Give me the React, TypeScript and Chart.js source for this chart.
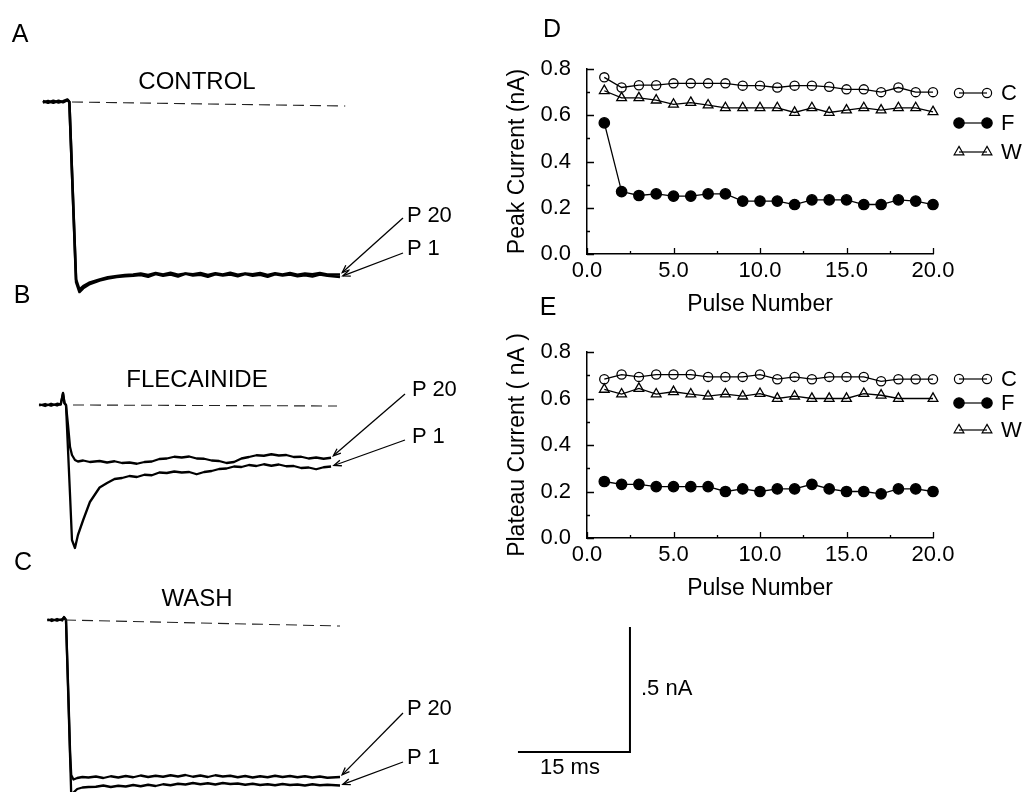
import React, { useEffect, useRef } from "react";
import { Chart, registerables } from "chart.js";

Chart.register(...registerables);

const FONT = '"Liberation Sans", Arial, Helvetica, sans-serif';

// ---------------- Panels D & E (pulse-number plots) ----------------
const pulseNumbers = [1, 2, 3, 4, 5, 6, 7, 8, 9, 10, 11, 12, 13, 14, 15, 16, 17, 18, 19, 20];

const peakControl = [0.764, 0.72, 0.73, 0.73, 0.738, 0.738, 0.738, 0.738, 0.728, 0.728, 0.72, 0.728, 0.728, 0.723, 0.712, 0.712, 0.7, 0.72, 0.7, 0.7];
const peakFlecainide = [0.567, 0.27, 0.253, 0.26, 0.25, 0.25, 0.26, 0.26, 0.229, 0.229, 0.229, 0.214, 0.234, 0.234, 0.234, 0.214, 0.214, 0.234, 0.229, 0.214];
const peakWash = [0.706, 0.675, 0.675, 0.665, 0.647, 0.655, 0.644, 0.632, 0.632, 0.632, 0.632, 0.612, 0.632, 0.612, 0.622, 0.632, 0.622, 0.632, 0.632, 0.615];

const plateauControl = [0.683, 0.703, 0.693, 0.703, 0.703, 0.703, 0.693, 0.693, 0.693, 0.703, 0.683, 0.693, 0.683, 0.693, 0.693, 0.693, 0.674, 0.683, 0.683, 0.683];
const plateauFlecainide = [0.243, 0.231, 0.231, 0.221, 0.221, 0.221, 0.221, 0.2, 0.211, 0.2, 0.211, 0.211, 0.231, 0.211, 0.2, 0.2, 0.19, 0.211, 0.211, 0.2];
const plateauWash = [0.639, 0.619, 0.643, 0.619, 0.629, 0.619, 0.61, 0.619, 0.61, 0.621, 0.6, 0.61, 0.6, 0.6, 0.6, 0.621, 0.614, 0.6, null, 0.6];

const currentTicks = [0, 0.2, 0.4, 0.6, 0.8];
const currentMinorTicks = [0.1, 0.3, 0.5, 0.7];
const pulseTicks = [0, 5, 10, 15, 20];
const pulseMinorTicks = [2.5, 7.5, 12.5, 17.5];
const seriesLabels = ["C", "F", "W"];

// ---------------- Panels A, B, C (current traces) ----------------
// time in ms, current in nA (inward = negative)
const timeA = [-3.1, -2.4, -1.7, -1.0, -0.4, 0.2, 0.45, 1.35, 1.8, 2.3, 3.2, 4.5, 5.6, 6.8, 7.9, 9.0,
  10, 11, 12, 13, 14, 15, 16, 17, 18, 19, 20, 21, 22, 23, 24, 25, 26, 27, 28, 29, 30, 31, 32, 33, 34, 35, 36.7];
const controlP1 = [0.004, -0.003, 0.005, -0.002, 0.003, 0.01, 0.0, -0.72, -0.76, -0.745, -0.728, -0.714, -0.706, -0.7, -0.697, -0.695,
  -0.692, -0.699, -0.688, -0.695, -0.69, -0.698, -0.687, -0.694, -0.691, -0.699, -0.689, -0.694, -0.69, -0.697, -0.688, -0.695, -0.691, -0.699, -0.689, -0.694, -0.69, -0.697, -0.693, -0.698, -0.69, -0.695, -0.7];
const controlP20 = [-0.002, 0.004, -0.003, 0.005, -0.001, 0.008, 0.0, -0.71, -0.75, -0.737, -0.722, -0.71, -0.701, -0.696, -0.692, -0.69,
  -0.686, -0.692, -0.684, -0.69, -0.683, -0.691, -0.686, -0.689, -0.684, -0.692, -0.685, -0.69, -0.683, -0.691, -0.686, -0.689, -0.684, -0.692, -0.685, -0.69, -0.684, -0.691, -0.686, -0.689, -0.684, -0.69, -0.69];
const controlDashTime = [0.8, 37.4];
const controlDashCurrent = [0, -0.016];

const timeB = [-3.6, -2.8, -2.0, -1.2, -0.7, -0.4, -0.2, 0, 0.27, 0.54, 0.8, 1.2, 1.6, 2.3, 3.2,
  4.5, 5.5, 6.5, 7.5, 8.5, 9.5, 10.5, 11.5, 12.5, 13.5, 14.5, 15.5, 16.5, 17.5, 18.5, 19.5, 20.5, 21.5, 22.5, 23.5, 24.5, 25.5, 26.5, 27.5, 28.5, 29.5, 30.5, 31.5, 32.5, 33.5, 34.5, 35.5];
const flecainideP1 = [0.003, -0.004, 0.005, -0.002, 0.004, 0.048, 0.008, 0.0, -0.18, -0.36, -0.54, -0.572, -0.52, -0.46, -0.388,
  -0.33, -0.312, -0.296, -0.292, -0.284, -0.288, -0.279, -0.281, -0.27, -0.272, -0.266, -0.27, -0.268, -0.277, -0.268, -0.264, -0.256, -0.254, -0.246, -0.248, -0.24, -0.244, -0.237, -0.243, -0.238, -0.245, -0.244, -0.252, -0.25, -0.257, -0.249, -0.246];
const flecainideP20 = [-0.002, 0.004, -0.003, 0.005, 0.002, 0.046, 0.006, 0.0, -0.08, -0.168, -0.2, -0.22, -0.226, -0.222, -0.228,
  -0.224, -0.23, -0.225, -0.232, -0.23, -0.235, -0.228, -0.226, -0.216, -0.214, -0.207, -0.21, -0.206, -0.214, -0.215, -0.222, -0.224, -0.232, -0.228, -0.214, -0.208, -0.201, -0.203, -0.197, -0.202, -0.2, -0.208, -0.207, -0.214, -0.21, -0.215, -0.211];
const flecainideDashTime = [0.94, 36.3];
const flecainideDashCurrent = [0, -0.004];

const timeC = [-2.5, -1.9, -1.2, -0.5, -0.27, 0, 0.3, 0.55, 0.7, 1.0, 1.5, 2.2, 3.0,
  4, 5, 6, 7, 8, 9, 10, 11, 12, 13, 14, 15, 16, 17, 18, 19, 20, 21, 22, 23, 24, 25, 26, 27, 28, 29, 30, 31, 32, 33, 34, 35, 36.7];
const washP1 = [0.003, -0.004, 0.004, -0.002, 0.012, 0.0, -0.3, -0.55, -0.7, -0.69, -0.676, -0.67, -0.668,
  -0.667, -0.662, -0.668, -0.663, -0.666, -0.66, -0.665, -0.659, -0.664, -0.657, -0.661, -0.655, -0.658, -0.652, -0.657, -0.653, -0.658, -0.652, -0.656, -0.654, -0.659, -0.655, -0.66, -0.657, -0.661, -0.656, -0.66, -0.658, -0.662, -0.657, -0.661, -0.659, -0.662];
const washP20 = [-0.002, 0.003, -0.003, 0.004, 0.01, 0.0, -0.28, -0.53, -0.62, -0.638, -0.632, -0.628, -0.63,
  -0.626, -0.632, -0.625, -0.63, -0.624, -0.629, -0.622, -0.628, -0.623, -0.627, -0.621, -0.626, -0.62, -0.627, -0.622, -0.628, -0.621, -0.626, -0.623, -0.629, -0.624, -0.63, -0.625, -0.629, -0.623, -0.628, -0.624, -0.629, -0.625, -0.63, -0.626, -0.631, -0.628];
const washDashTime = [-0.13, 36.7];
const washDashCurrent = [0, -0.024];

// calibration bar: 15 ms, 0.5 nA
const scaleBarTime = [60.53, 75.53, 75.53];
const scaleBarCurrent = [-0.528, -0.528, -0.028];

// ---------------- layout constants ----------------
const PX_PER_MS = 112 / 15;
const PX_PER_NA = 250;
const STEP_X = 66; // page x of t = 0 for every trace panel

type Box = { left: number; top: number; width: number; height: number };

function ChartBox({ box, build }: { box: Box; build: () => any }) {
  const ref = useRef<HTMLCanvasElement | null>(null);
  useEffect(() => {
    if (!ref.current) return;
    const chart = new Chart(ref.current, build());
    return () => chart.destroy();
  }, []);
  return (
    <div style={{ position: "absolute", left: box.left, top: box.top, width: box.width, height: box.height }}>
      <canvas ref={ref} width={box.width} height={box.height} style={{ display: "block", width: box.width, height: box.height }} />
    </div>
  );
}

const pts = (xs: number[], ys: (number | null)[]) => xs.map((x, i) => ({ x, y: ys[i] }));

type TracePanel = {
  box: Box;
  zeroY: number;
  times: number[];
  p1: number[];
  p20: number[];
  dashTime: number[];
  dashCurrent: number[];
  tailP20: [number, number];
  tailP1: [number, number];
  lineWidth: number;
  bar?: boolean;
};

function buildTrace(p: TracePanel) {
  const arrowPlugin = {
    id: "arrows",
    afterDatasetsDraw(chart: any) {
      const { ctx } = chart;
      const xs = chart.scales.x;
      const ys = chart.scales.y;
      const draw = (series: number[], tail: [number, number]) => {
        const i = series.length - 1;
        const tipX = xs.getPixelForValue(p.times[i]);
        const tipY = ys.getPixelForValue(series[i]);
        const tx = tail[0] - p.box.left;
        const ty = tail[1] - p.box.top;
        const ang = Math.atan2(ty - tipY, tx - tipX);
        const hx = tipX + Math.cos(ang) * 3;
        const hy = tipY + Math.sin(ang) * 3;
        ctx.save();
        ctx.strokeStyle = "#000";
        ctx.lineWidth = 1.3;
        ctx.beginPath();
        ctx.moveTo(tx, ty);
        ctx.lineTo(hx, hy);
        ctx.stroke();
        const L = 8;
        const s = 0.38;
        ctx.beginPath();
        ctx.moveTo(hx + Math.cos(ang + s) * L, hy + Math.sin(ang + s) * L);
        ctx.lineTo(hx, hy);
        ctx.lineTo(hx + Math.cos(ang - s) * L, hy + Math.sin(ang - s) * L);
        ctx.stroke();
        ctx.restore();
      };
      draw(p.p20, p.tailP20);
      draw(p.p1, p.tailP1);
    },
  };
  const datasets: any[] = [
    { data: pts(p.dashTime, p.dashCurrent), borderColor: "#222", borderWidth: 1.1, borderDash: [11, 6], pointRadius: 0 },
    { data: pts(p.times, p.p1), borderColor: "#000", borderWidth: p.lineWidth, pointRadius: 0, borderJoinStyle: "round" },
    { data: pts(p.times, p.p20), borderColor: "#000", borderWidth: p.lineWidth, pointRadius: 0, borderJoinStyle: "round" },
  ];
  if (p.bar) {
    datasets.push({ data: pts(scaleBarTime, scaleBarCurrent), borderColor: "#000", borderWidth: 2, pointRadius: 0, borderJoinStyle: "miter" });
  }
  return {
    type: "line",
    data: { datasets },
    options: {
      responsive: false,
      animation: false,
      devicePixelRatio: 1,
      events: [],
      layout: { padding: 0 },
      plugins: { legend: { display: false }, tooltip: { enabled: false } },
      scales: {
        x: { type: "linear", display: false, min: (p.box.left - STEP_X) / PX_PER_MS, max: (p.box.left + p.box.width - STEP_X) / PX_PER_MS },
        y: { type: "linear", display: false, min: -(p.box.top + p.box.height - p.zeroY) / PX_PER_NA, max: (p.zeroY - p.box.top) / PX_PER_NA },
      },
    },
    plugins: [arrowPlugin],
  };
}

type PulsePanel = {
  box: Box;
  padTop: number;
  ctrl: (number | null)[];
  flec: (number | null)[];
  wash: (number | null)[];
  yTitle: string;
  legendYs: number[];
};

function markerPath(ctx: CanvasRenderingContext2D, style: string, x: number, y: number, r: number) {
  ctx.beginPath();
  if (style === "triangle") {
    for (let k = 0; k < 3; k++) {
      const a = (k * 2 * Math.PI) / 3;
      const px = x + Math.sin(a) * r;
      const py = y - Math.cos(a) * r;
      if (k === 0) ctx.moveTo(px, py);
      else ctx.lineTo(px, py);
    }
    ctx.closePath();
  } else {
    ctx.arc(x, y, r, 0, Math.PI * 2);
  }
}

function buildPulse(p: PulsePanel) {
  const markerDefs = [
    { style: "circle", r: 4.6, filled: false },
    { style: "circle", r: 5.2, filled: true },
    { style: "triangle", r: 5.6, filled: false },
  ];
  const legendPlugin = {
    id: "pairLegend",
    afterDraw(chart: any) {
      const ctx: CanvasRenderingContext2D = chart.ctx;
      const x1 = 959 - p.box.left;
      const x2 = 987 - p.box.left;
      const xt = 1001 - p.box.left;
      seriesLabels.forEach((lab, i) => {
        const y = p.legendYs[i] - p.box.top;
        const m = markerDefs[i];
        ctx.save();
        ctx.strokeStyle = "#000";
        ctx.lineWidth = 1.2;
        ctx.beginPath();
        ctx.moveTo(x1, y);
        ctx.lineTo(x2, y);
        ctx.stroke();
        for (const cx of [x1, x2]) {
          markerPath(ctx, m.style, cx, y, m.r);
          if (m.filled) {
            ctx.fillStyle = "#000";
            ctx.fill();
          }
          ctx.stroke();
        }
        ctx.fillStyle = "#000";
        ctx.font = `22px ${FONT}`;
        ctx.textAlign = "left";
        ctx.textBaseline = "middle";
        ctx.fillText(lab, xt, y + 1);
        ctx.restore();
      });
    },
  };
  const inwardTicks = {
    id: "inwardTicks",
    afterDraw(chart: any) {
      const ctx: CanvasRenderingContext2D = chart.ctx;
      const { x, y } = chart.scales;
      const a = chart.chartArea;
      ctx.save();
      ctx.strokeStyle = "#000";
      ctx.lineWidth = 1.3;
      ctx.beginPath();
      currentTicks.forEach((v) => {
        const py = Math.round(y.getPixelForValue(v)) + 0.5;
        ctx.moveTo(a.left, py);
        ctx.lineTo(a.left + 7, py);
      });
      currentMinorTicks.forEach((v) => {
        const py = Math.round(y.getPixelForValue(v)) + 0.5;
        ctx.moveTo(a.left, py);
        ctx.lineTo(a.left + 3, py);
      });
      pulseTicks.forEach((v) => {
        const px = Math.round(x.getPixelForValue(v)) + 0.5;
        ctx.moveTo(px, a.bottom);
        ctx.lineTo(px, a.bottom - 6);
      });
      pulseMinorTicks.forEach((v) => {
        const px = Math.round(x.getPixelForValue(v)) + 0.5;
        ctx.moveTo(px, a.bottom);
        ctx.lineTo(px, a.bottom - 3);
      });
      ctx.stroke();
      ctx.restore();
    },
  };
  const common = { borderColor: "#000", borderWidth: 1.3, pointBorderColor: "#000", pointBorderWidth: 1.3, clip: false, spanGaps: true };
  return {
    type: "line",
    data: {
      datasets: [
        { ...common, label: "C", data: pts(pulseNumbers, p.ctrl), pointStyle: "circle", pointRadius: 4.6, pointBackgroundColor: "rgba(0,0,0,0)" },
        { ...common, label: "F", data: pts(pulseNumbers, p.flec), pointStyle: "circle", pointRadius: 5.2, pointBackgroundColor: "#000" },
        { ...common, label: "W", data: pts(pulseNumbers, p.wash), pointStyle: "triangle", pointRadius: 5.6, pointBackgroundColor: "rgba(0,0,0,0)" },
      ],
    },
    options: {
      responsive: false,
      animation: false,
      devicePixelRatio: 1,
      events: [],
      layout: { padding: { left: 0, right: 91, top: p.padTop, bottom: 0 } },
      plugins: { legend: { display: false }, tooltip: { enabled: false } },
      scales: {
        x: {
          type: "linear",
          min: 0,
          max: 20,
          grid: { display: false, drawTicks: false },
          border: { display: true, color: "#000", width: 1.5 },
          afterBuildTicks: (s: any) => {
            s.ticks = pulseTicks.map((v) => ({ value: v }));
          },
          afterFit: (s: any) => {
            s.height = 64;
          },
          ticks: { padding: 4, color: "#000", font: { family: FONT, size: 22 }, maxRotation: 0, callback: (v: any) => Number(v).toFixed(1) },
          title: { display: true, text: "Pulse Number", color: "#000", font: { family: FONT, size: 23 }, padding: { top: 0, bottom: 0 } },
        },
        y: {
          type: "linear",
          min: 0,
          max: 0.8,
          grid: { display: false, drawTicks: false },
          border: { display: true, color: "#000", width: 1.5 },
          afterBuildTicks: (s: any) => {
            s.ticks = currentTicks.map((v) => ({ value: v }));
          },
          afterFit: (s: any) => {
            s.width = 107;
          },
          ticks: { padding: 16, color: "#000", font: { family: FONT, size: 22 }, callback: (v: any) => Number(v).toFixed(1) },
          title: { display: true, text: p.yTitle, color: "#000", font: { family: FONT, size: 23 }, padding: { top: 24, bottom: 0 } },
        },
      },
    },
    plugins: [inwardTicks, legendPlugin],
  };
}

const panelA: TracePanel = {
  box: { left: 0, top: 40, width: 480, height: 272 },
  zeroY: 102,
  times: timeA,
  p1: controlP1,
  p20: controlP20,
  dashTime: controlDashTime,
  dashCurrent: controlDashCurrent,
  tailP20: [403, 218],
  tailP1: [403, 253],
  lineWidth: 2.6,
};
const panelB: TracePanel = {
  box: { left: 0, top: 312, width: 480, height: 250 },
  zeroY: 405,
  times: timeB,
  p1: flecainideP1,
  p20: flecainideP20,
  dashTime: flecainideDashTime,
  dashCurrent: flecainideDashCurrent,
  tailP20: [405, 394],
  tailP1: [405, 440],
  lineWidth: 2.3,
};
const panelC: TracePanel = {
  box: { left: 0, top: 562, width: 680, height: 230 },
  zeroY: 620,
  times: timeC,
  p1: washP1,
  p20: washP20,
  dashTime: washDashTime,
  dashCurrent: washDashCurrent,
  tailP20: [403, 713],
  tailP1: [403, 762],
  lineWidth: 2.3,
  bar: true,
};

const panelD: PulsePanel = {
  box: { left: 480, top: 0, width: 544, height: 318 },
  padTop: 69,
  ctrl: peakControl,
  flec: peakFlecainide,
  wash: peakWash,
  yTitle: "Peak Current (nA)",
  legendYs: [93, 123, 152],
};
const panelE: PulsePanel = {
  box: { left: 480, top: 300, width: 544, height: 302 },
  padTop: 52,
  ctrl: plateauControl,
  flec: plateauFlecainide,
  wash: plateauWash,
  yTitle: "Plateau Current ( nA )",
  legendYs: [379, 403, 430],
};

function Text({ x, y, children, size = 22, align = "center" }: { x: number; y: number; children: any; size?: number; align?: string }) {
  return (
    <div
      style={{
        position: "absolute",
        left: x,
        top: y,
        transform: align === "center" ? "translate(-50%, -50%)" : "translate(0, -50%)",
        fontSize: size,
        lineHeight: 1,
        whiteSpace: "nowrap",
        color: "#000",
      }}
    >
      {children}
    </div>
  );
}

export default function App() {
  return (
    <div style={{ position: "fixed", left: 0, top: 0, width: 1024, height: 792, background: "#fff", overflow: "hidden", fontFamily: FONT }}>
      <ChartBox box={panelE.box} build={() => buildPulse(panelE)} />
      <ChartBox box={panelD.box} build={() => buildPulse(panelD)} />
      <ChartBox box={panelA.box} build={() => buildTrace(panelA)} />
      <ChartBox box={panelB.box} build={() => buildTrace(panelB)} />
      <ChartBox box={panelC.box} build={() => buildTrace(panelC)} />

      <Text x={20} y={33} size={25}>A</Text>
      <Text x={22} y={294} size={25}>B</Text>
      <Text x={23} y={561} size={25}>C</Text>
      <Text x={552} y={28} size={25}>D</Text>
      <Text x={548} y={306} size={25}>E</Text>

      <Text x={197} y={81} size={24}>CONTROL</Text>
      <Text x={197} y={379} size={24}>FLECAINIDE</Text>
      <Text x={197} y={598} size={24}>WASH</Text>

      <Text x={407} y={215} size={22} align="left">P 20</Text>
      <Text x={407} y={248} size={22} align="left">P 1</Text>
      <Text x={412} y={389} size={22} align="left">P 20</Text>
      <Text x={412} y={436} size={22} align="left">P 1</Text>
      <Text x={407} y={708} size={22} align="left">P 20</Text>
      <Text x={407} y={757} size={22} align="left">P 1</Text>

      <Text x={641} y={688} size={22} align="left">.5 nA</Text>
      <Text x={570} y={767} size={22}>15 ms</Text>
    </div>
  );
}
